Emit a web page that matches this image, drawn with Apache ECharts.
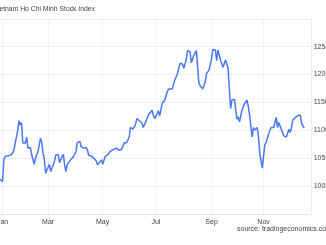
<!DOCTYPE html>
<html><head><meta charset="utf-8">
<script src="https://cdn.jsdelivr.net/npm/echarts@6/dist/echarts.min.js"></script>
<style>html,body{margin:0;padding:0;background:#fff}#c{width:326px;height:245px}</style>
</head><body><div id="c"></div>
<script>
// Trading-day index (category position) for each traced point
const dayIndex = [0,1,2,3,4,5,8,10,11,13,14,15,16,17,18,20,21,22,24,25,27,28,30,32,33,34,35,36,37,39,40,41,43,44,45,46,47,49,50,51,52,53,55,58,60,61,63,64,66,68,69,70,72,74,76,77,78,80,81,83,85,87,89,92,94,96,98,100,102,103,105,107,108,110,112,113,115,117,120,121,122,124,125,126,128,130,132,133,136,137,139,140,142,144,145,147,148,150,151,153,154,155,157,158,159,160,162,163,165,167,168,170,171,172,174,175,176,178,180,181,182,183,185,187,188,189,191,193,195,196,197,199,200,201,203,204,205,206,207,208,209,210,211,212,213,214,215,216,218,219,220,222,223,224,225,226,228,229,230,231,233,234,235,237,238,240];
const indexValues = [1012,1010,1008,1047,1053,1054,1055,1059,1065,1088,1100,1117,1109,1114,1077,1077,1088,1068,1069,1056,1039,1050,1062,1086,1077,1059,1047,1023,1029,1039,1026,1029,1044,1056,1053,1056,1042,1053,1057,1038,1026,1038,1045,1053,1062,1078,1080,1071,1068,1069,1065,1055,1054,1050,1045,1038,1041,1047,1039,1053,1056,1062,1065,1068,1064,1066,1077,1078,1088,1105,1102,1111,1121,1117,1113,1105,1115,1127,1136,1127,1121,1130,1135,1126,1148,1154,1169,1174,1174,1184,1196,1201,1220,1219,1211,1227,1243,1241,1221,1235,1235,1243,1184,1180,1181,1174,1187,1202,1208,1229,1245,1244,1225,1244,1226,1226,1213,1226,1211,1175,1139,1154,1156,1120,1124,1115,1136,1148,1154,1142,1127,1088,1105,1100,1105,1088,1059,1057,1032,1029,1074,1078,1086,1083,1100,1105,1102,1105,1123,1105,1114,1102,1105,1090,1092,1088,1102,1096,1104,1118,1123,1121,1126,1127,1113,1104];
const monthLabels = ['Jan','Mar','May','Jul','Sep','Nov'];
const monthIdx = [2,38,81,123,167,208];
const dayCount = 247;
const yTicks = [1000,1050,1100,1150,1200,1250];

const categories = [];
for (let i = 0; i < dayCount; i++) categories.push(String(i));
const seriesData = dayIndex.map((d, i) => [d, indexValues[i]]);
const font = 'Liberation Sans, Arial, sans-serif';

const chart = echarts.init(document.getElementById('c'), null, {renderer: 'canvas'});
chart.setOption({
  animation: false,
  backgroundColor: '#ffffff',
  graphic: [{
    type: 'text', x: -6.5, y: 6,
    style: {text: 'Vietnam Ho Chi Minh Stock Index', font: '6.8px ' + font, fill: '#444'}
  }, {
    type: 'text', x: 237, y: 226,
    style: {text: 'source: tradingeconomics.com', font: '7px ' + font, fill: '#444'}
  }],
  grid: {left: 0, right: 14.3, top: 18.8, bottom: 31.1, containLabel: false, outerBoundsMode: 'none'},
  xAxis: {
    type: 'category',
    data: categories,
    boundaryGap: false,
    axisLine: {show: true, lineStyle: {color: '#e6e6e6', width: 1}},
    axisTick: {show: false},
    axisLabel: {
      interval: (i) => monthIdx.includes(i),
      formatter: (v, i) => { const k = monthIdx.indexOf(Number(v)); return k >= 0 ? monthLabels[k] : ''; },
      fontFamily: font, fontSize: 7, color: '#444', margin: 5,
      hideOverlap: false
    },
    splitLine: {show: true, interval: (i) => monthIdx.includes(i), lineStyle: {color: '#eef3f7', width: 1}}
  },
  yAxis: {
    type: 'value',
    position: 'right',
    min: 950, max: 1300, interval: 50,
    axisLine: {show: true, lineStyle: {color: '#eeeeee', width: 1}},
    axisTick: {show: false},
    axisLabel: {
      showMinLabel: false, showMaxLabel: false,
      formatter: (v) => yTicks.includes(v) ? String(v) : '',
      fontFamily: font, fontSize: 7, color: '#444', margin: 2
    },
    splitLine: {show: true, lineStyle: {color: '#efefef', width: 1}}
  },
  series: [{
    type: 'line',
    data: seriesData,
    showSymbol: false,
    symbol: 'none',
    lineStyle: {color: '#4a78f5', width: 1.5},
    itemStyle: {color: '#4a78f5'}
  }]
});
</script></body></html>
